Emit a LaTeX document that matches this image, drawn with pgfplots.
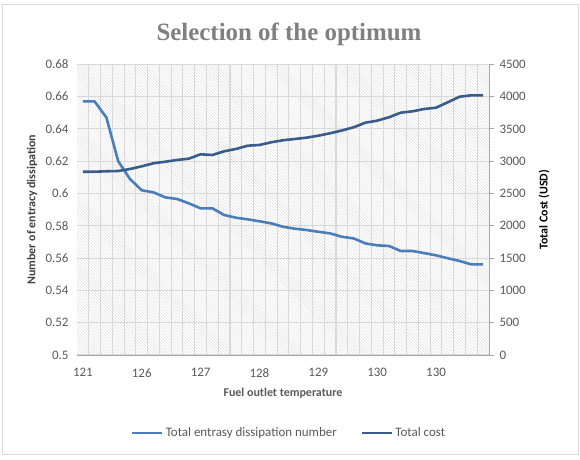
\documentclass[border=0pt]{standalone}
\usepackage{pgfplots}
\pgfplotsset{compat=1.18}
\usepackage{pgfplotstable}
\usepackage{fontspec}
\setmainfont{Carlito}
\newfontfamily\titlefont{Liberation Serif}
\usetikzlibrary{patterns}
\definecolor{lightln}{RGB}{74,126,187}
\definecolor{darkln}{RGB}{56,93,138}
\definecolor{txtgray}{RGB}{89,89,89}
\definecolor{gridgray}{RGB}{217,217,217}
\definecolor{axgray}{RGB}{166,166,166}

\pgfplotstableread{
x y
0 0.657
1 0.657
2 0.647
3 0.620
4 0.609
5 0.602
6 0.6007
7 0.5976
8 0.5966
9 0.5939
10 0.5908
11 0.5908
12 0.5867
13 0.5850
14 0.5840
15 0.5828
16 0.5815
17 0.5794
18 0.5782
19 0.5774
20 0.5763
21 0.5753
22 0.5732
23 0.5722
24 0.5691
25 0.5679
26 0.5675
27 0.5644
28 0.5644
29 0.5631
30 0.5617
31 0.5599
32 0.5582
33 0.5561
34 0.5561
}\entropy

\pgfplotstableread{
x y
0 2837
1 2837
2 2844
3 2848
4 2879
5 2921
6 2968
7 2992
8 3019
9 3039
10 3107
11 3096
12 3153
13 3189
14 3240
15 3251
16 3293
17 3324
18 3344
19 3364
20 3395
21 3432
22 3475
23 3525
24 3596
25 3627
26 3680
27 3751
28 3772
29 3808
30 3828
31 3912
32 3998
33 4020
34 4020
}\cost

\begin{document}
\begin{tikzpicture}
\path[use as bounding box] (0bp,0bp) rectangle (580bp,460bp);
\draw[gridgray, line width=1bp] (2bp,5bp) rectangle (578bp,455bp);
\node[font=\titlefont\bfseries\fontsize{25}{28}\selectfont, text=black!50] at (289bp,426bp) {Selection of the optimum};

\begin{axis}[
  at={(77bp,105bp)}, anchor=south west,
  scale only axis, width=412bp, height=290.7bp,
  xmin=-0.5, xmax=34.5,
  ymin=0.5, ymax=0.68,
  axis background/.style={pattern=north west lines, pattern color=black!13},
  axis x line*=bottom, axis y line*=left,
  x axis line style={-, axgray, line width=0.8bp},
  y axis line style={draw=none},
  xtick={0,5,10,15,20,25,30},
  xticklabels={121,126,127,128,129,130,130},
  minor xtick={0.5,1.5,...,33.5},
  ytick={0.5,0.52,0.54,0.56,0.58,0.6,0.62,0.64,0.66,0.68},
  yticklabels={0.5,0.52,0.54,0.56,0.58,0.6,0.62,0.64,0.66,0.68},
  major tick length=0pt, minor tick length=0pt,
  ymajorgrids, xminorgrids,
  major grid style={gridgray, line width=1.1bp},
  minor grid style={gridgray, line width=1.1bp},
  tick label style={font=\fontsize{13}{15}\selectfont, text=txtgray},
  xticklabel style={yshift=-10bp},
  yticklabel style={xshift=-5bp},
  xlabel={Fuel outlet temperature},
  xlabel style={at={(rel axis cs:0.5,0)}, anchor=center, yshift=-38bp, font=\bfseries\fontsize{12}{14}\selectfont, text=txtgray},
  ylabel={Number of entracy dissipation},
  ylabel style={at={(rel axis cs:-0.109,0.5)}, anchor=center, font=\bfseries\fontsize{12}{14}\selectfont, text=black!75},
  legend style={at={(rel axis cs:0.515,-0.268)}, anchor=center, draw=none, fill=none,
    font=\fontsize{13}{15}\selectfont, text=txtgray, legend columns=2,
    /tikz/every even column/.append style={column sep=22bp}},
  legend image code/.code={\draw[#1] (0bp,0bp) -- (30bp,0bp);},
]
\addplot[lightln, line width=2.6bp, line join=round] table[x=x,y=y] {\entropy};
\addlegendentry{Total entrasy dissipation number}
\addlegendimage{darkln, line width=2.6bp}
\addlegendentry{Total cost}
\end{axis}

\begin{axis}[
  at={(77bp,105bp)}, anchor=south west,
  scale only axis, width=412bp, height=290.7bp,
  xmin=-0.5, xmax=34.5,
  ymin=0, ymax=4500,
  axis x line=none,
  axis y line*=right,
  y axis line style={-, axgray, line width=0.8bp},
  ytick={0,500,...,4500},
  yticklabels={0,500,1000,1500,2000,2500,3000,3500,4000,4500},
  tick align=outside, major tick length=5bp,
  major tick style={axgray, line width=0.8bp},
  tick label style={font=\fontsize{13}{15}\selectfont, text=txtgray},
  yticklabel style={xshift=2bp},
  ylabel={Total Cost (USD)},
  ylabel style={at={(rel axis cs:1.1335,0.5)}, anchor=center, font=\bfseries\fontsize{12}{14}\selectfont, text=black},
]
\addplot[darkln, line width=2.6bp, line join=round] table[x=x,y=y] {\cost};
\end{axis}
\end{tikzpicture}
\end{document}
